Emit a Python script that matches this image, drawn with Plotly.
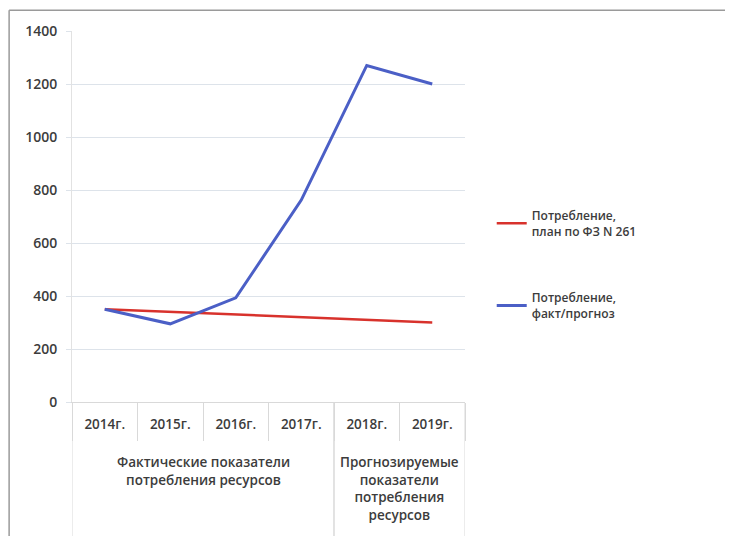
import plotly.graph_objects as go

years = ["2014г.", "2015г.", "2016г.", "2017г.", "2018г.", "2019г."]
groups = ["Фактические показатели<br>потребления ресурсов"] * 4 + \
         ["Прогнозируемые<br>показатели<br>потребления<br>ресурсов"] * 2
plan = [350, 340, 330, 320, 310, 300]
fact = [350, 295, 393, 762, 1270, 1200]

font_family = "Open Sans, Noto Sans, sans-serif"
text_color = "#3c3c3c"
axis_grey = "#d9d9d9"

fig = go.Figure()

fig.add_trace(go.Scatter(
    x=years, y=plan,
    name="Потребление,<br>план по ФЗ N 261",
    mode="lines",
    line=dict(color="#d8322c", width=2.5),
    legendgroup="plan"
))

fig.add_trace(go.Scatter(
    x=years, y=fact,
    name="Потребление,<br>факт/прогноз",
    mode="lines",
    line=dict(color="#4b5fc6", width=3),
    legendgroup="fact"
))

# group labels under the years + divider lines between groups
spans = []
for i, g in enumerate(groups):
    if spans and spans[-1][0] == g:
        spans[-1][2] = i
    else:
        spans.append([g, i, i])

for g, first, last in spans:
    fig.add_annotation(
        x=(first + last) / 2, xref="x", y=-0.133, yref="paper",
        text=g, showarrow=False, yanchor="top", align="center",
        font=dict(size=13.5, color=text_color, weight=600),
    )
    for edge in (first - 0.5, last + 0.5):
        fig.add_shape(type="line", xref="x", yref="paper",
                      x0=edge, x1=edge, y0=0, y1=-0.4,
                      line=dict(color=axis_grey, width=1))

# page body has an 8px margin, so the figure is a bit smaller than the window
fig.update_layout(
    width=725, height=528,
    margin=dict(l=64, r=268, t=23, b=134),
    paper_bgcolor="white",
    plot_bgcolor="white",
    font=dict(family=font_family, size=13, color=text_color, weight=600),
    showlegend=True,
    legend=dict(x=1.068, y=0.37, xanchor="left", yanchor="middle",
                tracegroupgap=48,
                font=dict(size=12, color=text_color, weight=600),
                bgcolor="rgba(0,0,0,0)"),
)

# outer frame (top and left edges only, like the scan)
fig.add_shape(type="line", xref="paper", yref="paper",
              x0=-0.160, x1=1.7, y0=1.056, y1=1.056,
              line=dict(color="#9a9a9a", width=1.5))
fig.add_shape(type="line", xref="paper", yref="paper",
              x0=-0.160, x1=-0.160, y0=1.056, y1=-0.5,
              line=dict(color="#9a9a9a", width=1.5))

fig.update_xaxes(
    type="category",
    range=[-0.5, 5.5],
    showgrid=False,
    showline=True, linecolor=axis_grey, linewidth=1,
    tickson="boundaries",
    ticks="outside", tickcolor=axis_grey, ticklen=38,
    ticklabelstandoff=10,
    tickfont=dict(size=13.5, color=text_color, weight=600),
)

fig.update_yaxes(
    range=[0, 1400], dtick=200,
    showgrid=True, gridcolor="#dde3ea", gridwidth=1,
    zeroline=False,
    showline=True, linecolor="#e2e2e2",
    ticks="outside", tickcolor="#dde3ea", ticklen=5,
    ticklabelstandoff=6,
    tickfont=dict(size=14, color=text_color, weight=600),
)

fig.write_html("out.html")
